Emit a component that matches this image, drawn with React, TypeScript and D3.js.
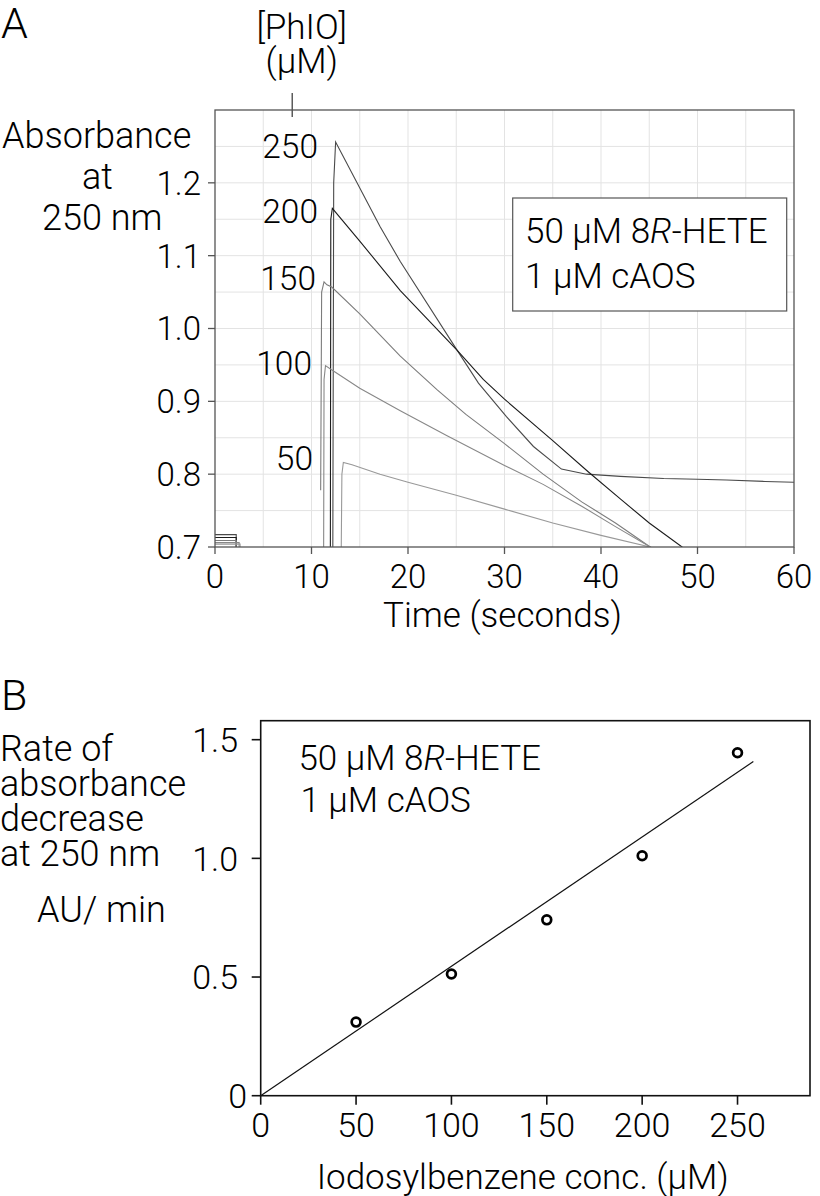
import React from "react";
import * as d3 from "d3";

// ---------- Panel A data ----------
const phioLevels = ["250", "200", "150", "100", "50"];
const t250 = [12.2, 12.3, 12.5, 17.1, 19.2, 25.1, 27.3, 30.2, 33.0, 35.9, 38.5, 42, 46.5, 50, 53, 57, 60];
const a250 = [0.65, 1.2, 1.256, 1.14, 1.092, 0.97, 0.925, 0.879, 0.838, 0.807, 0.8, 0.797, 0.794, 0.793, 0.792, 0.79, 0.789];
const t200 = [11.95, 12.0, 12.16, 15, 19.2, 25.1, 27.8, 30, 35, 38.7, 42, 45, 48.4, 49];
const a200 = [0.65, 1.15, 1.165, 1.12, 1.052, 0.97, 0.93, 0.903, 0.846, 0.803, 0.766, 0.733, 0.7, 0.693];
const t150 = [10.95, 11.05, 11.3, 11.6, 12.1, 15, 19.2, 23, 26, 30, 34, 38, 41.5, 45.1, 45.5];
const a150 = [0.778, 1.05, 1.064, 1.06, 1.057, 1.02, 0.962, 0.916, 0.882, 0.842, 0.8, 0.762, 0.733, 0.7, 0.697];
const t100 = [11.25, 11.3, 11.45, 12, 15, 19.2, 24, 30, 34, 38, 41.5, 45.1, 45.5];
const a100 = [0.65, 0.93, 0.949, 0.944, 0.918, 0.887, 0.853, 0.812, 0.786, 0.756, 0.728, 0.7, 0.697];
const t50 = [13.05, 13.15, 13.3, 14.2, 17.1, 20, 25, 30, 35, 40, 45.1, 45.5];
const a50 = [0.65, 0.8, 0.816, 0.813, 0.8, 0.789, 0.771, 0.752, 0.733, 0.716, 0.7, 0.698];
const baselineLevel = [0.717, 0.713, 0.709, 0.706, 0.704];
const baselineEnd = [2.2, 2.2, 2.2, 2.5, 2.6];
const timeTicks = [0, 10, 20, 30, 40, 50, 60];
const absTicks = [0.7, 0.8, 0.9, 1.0, 1.1, 1.2];
const phioMarkTime = 8;

// ---------- Panel B data ----------
const concB = [50, 100, 150, 200, 250];
const rateB = [0.31, 0.513, 0.741, 1.011, 1.445];
const fitX = [0, 258.3];
const fitY = [0, 1.408];
const concTicks = [0, 50, 100, 150, 200, 250];
const rateTicks = [0, 0.5, 1.0, 1.5];

const FONT = "Roboto, 'Liberation Sans', Arial, sans-serif";

export default function App() {
  const xA = d3.scaleLinear().domain([0, 60]).range([215, 794]);
  const yA = d3.scaleLinear().domain([0.7, 1.3]).range([547, 110]);
  const xB = d3.scaleLinear().domain([0, 288]).range([260.7, 810]);
  const yB = d3.scaleLinear().domain([0, 1.58]).range([1095.7, 720.7]);

  const traces = [
    { t: t250, a: a250, color: "#4a4a4a" },
    { t: t200, a: a200, color: "#1c1c1c" },
    { t: t150, a: a150, color: "#7c7c7c" },
    { t: t100, a: a100, color: "#888888" },
    { t: t50, a: a50, color: "#999999" },
  ];
  const lineA = d3
    .line<[number, number]>()
    .x((d) => xA(d[0]))
    .y((d) => yA(d[1]));

  const lineB = d3
    .line<[number, number]>()
    .x((d) => xB(d[0]))
    .y((d) => yB(d[1]));

  const labelPos = [
    { x: 318, y: 158 },
    { x: 318, y: 223 },
    { x: 316, y: 290 },
    { x: 312, y: 375 },
    { x: 313, y: 470 },
  ];

  const gridT = d3.range(5, 60, 5);
  const gridA = d3.range(0.75, 1.2501, 0.05);

  return (
    <div style={{ position: "absolute", left: 0, top: 0 }}>
      <svg width={820} height={1196} style={{ display: "block", background: "#fff" }} fontFamily={FONT} fontWeight={300}>
        <defs>
          <clipPath id="clipA">
            <rect x={xA(0)} y={yA(1.3)} width={xA(60) - xA(0)} height={yA(0.7) - yA(1.3)} />
          </clipPath>
        </defs>
        {/* ===== Panel A ===== */}
        <text x={1} y={38} fontSize={43}>A</text>
        <text x={301.7} y={39} fontSize={35} textAnchor="middle">[PhIO]</text>
        <text x={301.7} y={73} fontSize={35} textAnchor="middle">(μM)</text>
        <line x1={xA(phioMarkTime)} x2={xA(phioMarkTime)} y1={93} y2={117} stroke="#333" strokeWidth={1.2} />

        {/* grid */}
        {gridT.map((t) => (
          <line key={"gt" + t} x1={xA(t)} x2={xA(t)} y1={yA(1.3)} y2={yA(0.7)} stroke="#e3e3e3" strokeWidth={1} />
        ))}
        {gridA.map((a) => (
          <line key={"ga" + a} x1={xA(0)} x2={xA(60)} y1={yA(a)} y2={yA(a)} stroke="#e3e3e3" strokeWidth={1} />
        ))}

        {/* legend box A */}
        <rect x={512.7} y={198} width={274} height={113} fill="#fff" stroke="#555" strokeWidth={1.2} />
        <text x={525} y={243} fontSize={35}>
          50 μM 8<tspan fontStyle="italic">R</tspan>-HETE
        </text>
        <text x={525} y={288} fontSize={35}>1 μM cAOS</text>

        {/* traces */}
        <g clipPath="url(#clipA)" fill="none">
          {baselineLevel.map((lv, i) => (
            <path
              key={"bl" + i}
              d={lineA([
                [0, lv],
                [baselineEnd[i], lv],
                [baselineEnd[i], 0.65],
              ]) || ""}
              stroke={traces[i].color}
              strokeWidth={1.1}
            />
          ))}
          {traces.map((tr, i) => (
            <path
              key={"tr" + i}
              d={lineA(tr.t.map((t, j) => [t, tr.a[j]] as [number, number])) || ""}
              stroke={tr.color}
              strokeWidth={1.1}
            />
          ))}
        </g>

        {/* trace labels */}
        {phioLevels.map((lv, i) => (
          <text key={"lv" + lv} x={labelPos[i].x} y={labelPos[i].y} fontSize={33.5} textAnchor="end">
            {lv}
          </text>
        ))}

        {/* frame A */}
        <rect x={xA(0)} y={yA(1.3)} width={xA(60) - xA(0)} height={yA(0.7) - yA(1.3)} fill="none" stroke="#555" strokeWidth={1.3} />
        {absTicks.map((a) => (
          <g key={"ya" + a}>
            <line x1={xA(0) - 7} x2={xA(0)} y1={yA(a)} y2={yA(a)} stroke="#555" strokeWidth={1.3} />
            <text x={201} y={yA(a)} dy="0.36em" fontSize={33} textAnchor="end">
              {a.toFixed(1)}
            </text>
          </g>
        ))}
        {timeTicks.map((t) => (
          <g key={"xa" + t}>
            <line x1={xA(t)} x2={xA(t)} y1={yA(0.7)} y2={yA(0.7) + 7} stroke="#555" strokeWidth={1.3} />
            <text x={xA(t)} y={588} fontSize={33} textAnchor="middle">
              {t}
            </text>
          </g>
        ))}
        <text x={502.5} y={627} fontSize={35} textAnchor="middle">Time (seconds)</text>
        <text x={2} y={148} fontSize={36}>Absorbance</text>
        <text x={82} y={189} fontSize={36}>at</text>
        <text x={42} y={230} fontSize={36}>250 nm</text>

        {/* ===== Panel B ===== */}
        <text x={1} y={710} fontSize={43}>B</text>
        <text x={0} y={761} fontSize={36}>Rate of</text>
        <text x={0} y={796} fontSize={36}>absorbance</text>
        <text x={0} y={831} fontSize={36}>decrease</text>
        <text x={0} y={866} fontSize={36}>at 250 nm</text>
        <text x={37} y={922} fontSize={36}>AU/ min</text>

        <rect x={xB(0)} y={yB(1.58)} width={xB(288) - xB(0)} height={yB(0) - yB(1.58)} fill="none" stroke="#111" strokeWidth={1.6} />
        {rateTicks.map((r) => (
          <g key={"yb" + r}>
            <line x1={xB(0) - 9} x2={xB(0)} y1={yB(r)} y2={yB(r)} stroke="#111" strokeWidth={1.6} />
            <text x={r === 0 ? 247 : 238} y={yB(r)} dy="0.36em" fontSize={34} textAnchor="end">
              {r === 0 ? "0" : r.toFixed(1)}
            </text>
          </g>
        ))}
        {concTicks.map((c) => (
          <g key={"xb" + c}>
            <line x1={xB(c)} x2={xB(c)} y1={yB(0)} y2={yB(0) + 9} stroke="#111" strokeWidth={1.6} />
            <text x={xB(c)} y={1137} fontSize={34} textAnchor="middle">
              {c}
            </text>
          </g>
        ))}
        <text x={316.7} y={1189} fontSize={35}>Iodosylbenzene conc. (μM)</text>

        <text x={298.4} y={770} fontSize={35}>
          50 μM 8<tspan fontStyle="italic">R</tspan>-HETE
        </text>
        <text x={300.4} y={811.7} fontSize={35}>1 μM cAOS</text>

        <path d={lineB(fitX.map((x, i) => [x, fitY[i]] as [number, number])) || ""} fill="none" stroke="#111" strokeWidth={1.2} />
        {concB.map((c, i) => (
          <circle key={"pt" + c} cx={xB(c)} cy={yB(rateB[i])} r={4.4} fill="#fff" stroke="#000" strokeWidth={2.7} />
        ))}
      </svg>
    </div>
  );
}
